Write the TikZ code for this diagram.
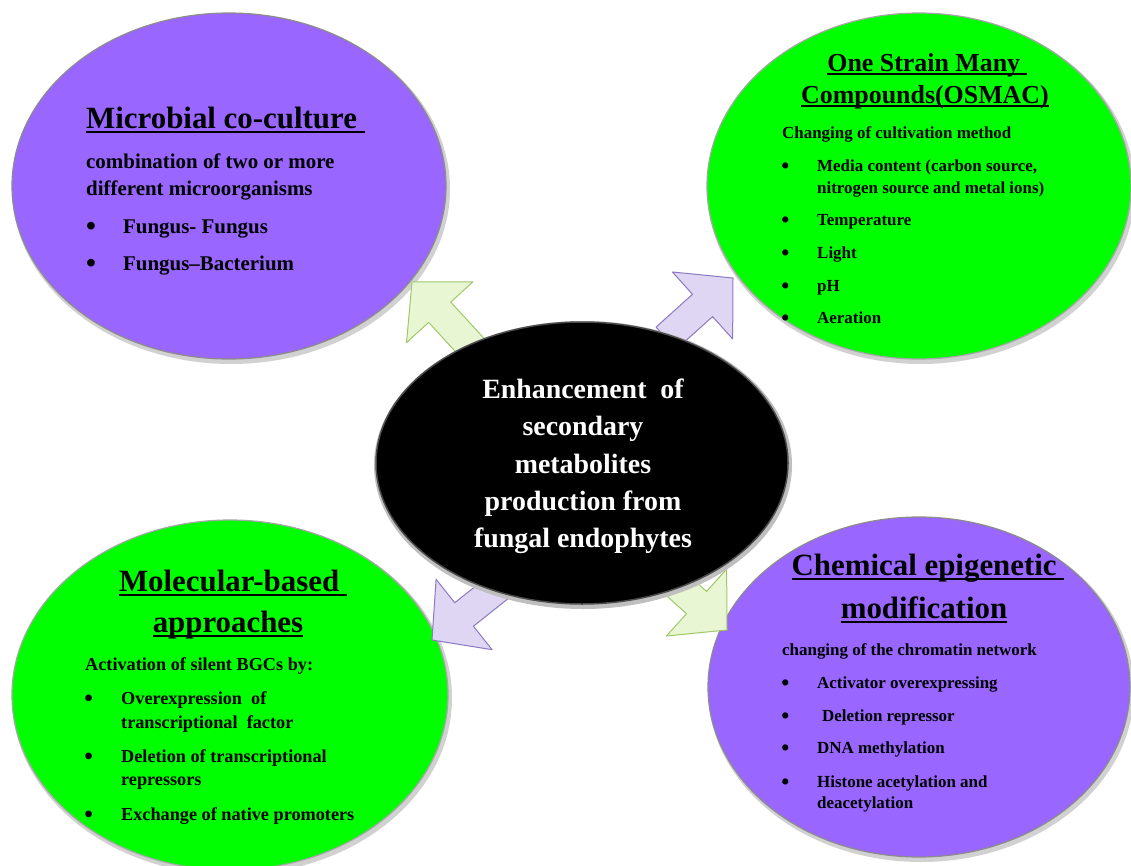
\documentclass[tikz,border=0pt]{standalone}
\usepackage{fontspec}
\usepackage{graphicx}
\setmainfont{Liberation Serif}
\usetikzlibrary{calc,shapes.geometric}
\definecolor{purp}{RGB}{153,102,255}
\definecolor{grn}{RGB}{0,255,0}
\definecolor{garrow}{RGB}{232,246,212}
\definecolor{garrowb}{RGB}{160,200,105}
\definecolor{parrow}{RGB}{222,214,243}
\definecolor{parrowb}{RGB}{140,120,195}
\newcommand{\myul}[1]{\leavevmode\setbox0=\hbox{#1}\rlap{\copy0}\rule[-0.16em]{\wd0}{0.065em}}
\newcommand{\bul}[1]{\makebox[#1][l]{\hspace*{-0.05em}\raisebox{-0.12em}{\scalebox{1.35}{\textbullet}}}}
\newcommand{\barrow}[4]{%
  \draw[#4] (#1) -- ($(#1)+(#2:41)+(#2+90:45)$) -- ($(#1)+(#2:41)+(#2+90:15)$)
    -- ($(#1)+(#2:#3)+(#2+90:15)$) -- ($(#1)+(#2:#3)+(#2-90:15)$)
    -- ($(#1)+(#2:41)+(#2-90:15)$) -- ($(#1)+(#2:41)+(#2-90:45)$) -- cycle;}
\tikzset{
  bub/.style={ellipse, inner sep=0pt, line width=1.2bp},
  shad/.style={ellipse, inner sep=0pt, fill=black!18},
  ttl/.style={anchor=base, inner sep=0pt, font=\bfseries\fontsize{#1}{#1}\selectfont},
  tx/.style={anchor=base west, inner sep=0pt, font=\bfseries\fontsize{#1}{#1}\selectfont},
  ctx/.style={anchor=base, inner sep=0pt, text=white, font=\bfseries\fontsize{28}{28}\selectfont},
  garr/.style={fill=garrow, draw=garrowb, line width=1bp, line join=round},
  parr/.style={fill=parrow, draw=parrowb, line width=1bp, line join=round},
}
\begin{document}
\begin{tikzpicture}[x=1bp, y=-1bp]
\useasboundingbox (0,0) rectangle (1131,866);
\fill[white] (0,0) rectangle (1131,866);
% shadows
\node[shad, minimum width=438bp, minimum height=350bp] (s1) at (231,189) {};
\node[shad, minimum width=428bp, minimum height=350bp] (s2) at (921,189) {};
\node[shad, minimum width=440bp, minimum height=354bp] (s3) at (232,698) {};
\node[shad, minimum width=426bp, minimum height=344bp] (s4) at (921,690) {};
% outer bubbles
\node[bub, fill=purp, draw=black!45, minimum width=434bp, minimum height=346bp] (coc) at (229,186) {};
\node[bub, fill=grn, draw=black!35, minimum width=424bp, minimum height=346bp] (osm) at (919,186) {};
\node[bub, fill=grn, draw=black!35, minimum width=436bp, minimum height=350bp] (mol) at (230,695) {};
\node[bub, fill=purp, draw=black!45, minimum width=422bp, minimum height=340bp] (che) at (919,687) {};
% block arrows
\coordinate (t1) at (412,282);
\coordinate (t2) at (733,278);
\coordinate (t3) at (432,640);
\coordinate (t4) at (727,630);
\barrow{t1}{47.5}{90}{garr}
\barrow{t2}{138}{90}{parr}
\barrow{t3}{-38.5}{90}{parr}
\barrow{t4}{222}{90}{garr}
% centre
\node[ellipse, inner sep=0pt, fill=black!25, minimum width=418bp, minimum height=288bp] (cs) at (583,465) {};
\node[bub, fill=black, draw=black!70, line width=1.5bp, minimum width=412bp, minimum height=282bp] (cen) at (582,463) {};
\node[ctx] (c1) at (583,398) {Enhancement\ \ of};
\node[ctx] (c2) at (583,435) {secondary};
\node[ctx] (c3) at (583,473) {metabolites};
\node[ctx] (c4) at (583,510) {production from};
\node[ctx] (c5) at (583,547) {fungal endophytes};
% Microbial co-culture
\node[tx=31] (a0) at (86,128) {\myul{Microbial co-culture\ }};
\node[tx=21] (a1) at (86,168) {combination of two or more};
\node[tx=21] (a2) at (86,195) {different microorganisms};
\node[tx=21] (a3) at (87,233) {\bul{36bp}Fungus- Fungus};
\node[tx=21] (a4) at (87,270) {\bul{36bp}Fungus--Bacterium};
% OSMAC
\node[ttl=26] (b0) at (927,71) {\myul{One Strain Many\ }};
\node[ttl=26] (b1) at (925,103) {\myul{Compounds(OSMAC)}};
\node[tx=17] (b2) at (782,138) {Changing of cultivation method};
\node[tx=17] (b3) at (782,171) {\bul{35bp}Media content (carbon source,};
\node[tx=17] (b4) at (817,193) {nitrogen source and metal ions)};
\node[tx=17] (b5) at (782,225) {\bul{35bp}Temperature};
\node[tx=17] (b6) at (782,258) {\bul{35bp}Light};
\node[tx=17] (b7) at (782,291) {\bul{35bp}pH};
\node[tx=17] (b8) at (782,323) {\bul{35bp}Aeration};
% Molecular-based
\node[ttl=31] (m0) at (233,591) {\myul{Molecular-based\ }};
\node[ttl=31] (m1) at (228,632) {\myul{approaches}};
\node[tx=18.3] (m2) at (85,670) {Activation of silent BGCs by:};
\node[tx=18.3] (m3) at (85,704) {\bul{36bp}Overexpression\ \ of};
\node[tx=18.3] (m4) at (121,728) {transcriptional\ \ factor};
\node[tx=18.3] (m5) at (85,762) {\bul{36bp}Deletion of transcriptional};
\node[tx=18.3] (m6) at (121,785) {repressors};
\node[tx=18.3] (m7) at (85,820) {\bul{36bp}Exchange of native promoters};
% Chemical epigenetic
\node[ttl=31] (e0) at (928,575) {\myul{Chemical epigenetic\ }};
\node[ttl=31] (e1) at (924,618) {\myul{modification}};
\node[tx=17] (e2) at (782,655) {changing of the chromatin network};
\node[tx=17] (e3) at (782,688) {\bul{35bp}Activator overexpressing};
\node[tx=17] (e4) at (782,721) {\bul{40bp}Deletion repressor};
\node[tx=17] (e5) at (782,753) {\bul{35bp}DNA methylation};
\node[tx=17] (e6) at (782,787) {\bul{35bp}Histone acetylation and};
\node[tx=17] (e7) at (817,808) {deacetylation};
\end{tikzpicture}
\end{document}
